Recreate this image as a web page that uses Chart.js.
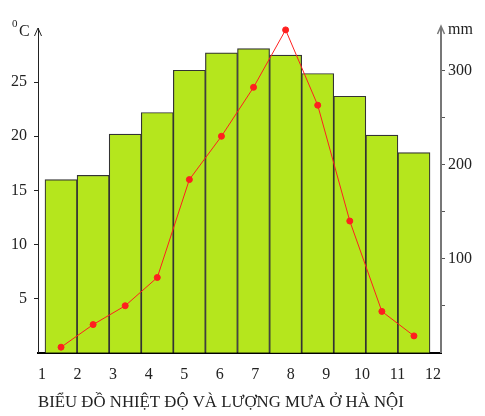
<!DOCTYPE html>
<html>
<head>
<meta charset="utf-8">
<title>Biểu đồ nhiệt độ và lượng mưa ở Hà Nội</title>
<script src="https://cdn.jsdelivr.net/npm/chart.js@4.4.1/dist/chart.umd.min.js"></script>
<style>
  html, body { margin: 0; padding: 0; background: #fff; }
  #wrap { width: 485px; height: 416px; }
</style>
</head>
<body>
<div id="wrap"><canvas id="climateChart" width="485" height="416"></canvas></div>
<script>
// --- Data ---
const months = [1, 2, 3, 4, 5, 6, 7, 8, 9, 10, 11, 12];
const temperature = [16.0, 16.4, 20.2, 22.2, 26.1, 27.7, 28.1, 27.5, 25.8, 23.7, 20.1, 18.5]; // °C, bars
const rainfall = [6, 30, 50, 80, 184, 230, 282, 343, 263, 140, 44, 18];                       // mm, line
const tempTicks = [5, 10, 15, 20, 25];
const rainTicks = [50, 100, 150, 200, 250, 300];
const rainLabelled = [100, 200, 300];
const chartTitle = 'BIỂU ĐỒ NHIỆT ĐỘ VÀ LƯỢNG MƯA Ở HÀ NỘI';

const SERIF = "'Liberation Serif', 'DejaVu Serif', serif";
const TEXT = '#222';

// --- Extra decorations: axis arrows and unit labels ---
const axisDecor = {
    id: 'axisDecor',
    afterDraw(chart) {
        const { ctx, chartArea } = chart;
        const left = chartArea.left, right = chartArea.right, top = chartArea.top;
        ctx.save();

        // arrow heads on both vertical axes
        ctx.lineWidth = 1;
        ctx.strokeStyle = '#222';
        ctx.beginPath();
        ctx.moveTo(left - 3.5, top + 8);
        ctx.lineTo(left, top);
        ctx.lineTo(left + 3.5, top + 8);
        ctx.stroke();

        ctx.strokeStyle = '#777';
        ctx.lineWidth = 1.5;
        ctx.beginPath();
        ctx.moveTo(right - 3.5, top + 6);
        ctx.lineTo(right, top - 2);
        ctx.lineTo(right + 3.5, top + 6);
        ctx.stroke();

        // unit labels
        ctx.fillStyle = TEXT;
        ctx.textBaseline = 'alphabetic';
        ctx.textAlign = 'left';
        ctx.font = `11px ${SERIF}`;
        ctx.fillText('0', 12, 27);
        ctx.font = `16px ${SERIF}`;
        ctx.fillText('C', 19, 36);
        ctx.fillText('mm', right + 7, 34);

        ctx.restore();
    }
};

const ctx = document.getElementById('climateChart');

new Chart(ctx, {
    type: 'bar',
    data: {
        datasets: [
            {
                type: 'line',
                label: 'Lượng mưa (mm)',
                data: months.map((m, i) => ({ x: m, y: rainfall[i] })),
                xAxisID: 'x',
                yAxisID: 'y1',
                borderColor: '#ff1f1f',
                borderWidth: 1,
                pointRadius: 3,
                pointBackgroundColor: '#ff1f1f',
                pointBorderColor: '#ff1f1f',
                tension: 0,
                clip: false,
                order: 0
            },
            {
                type: 'bar',
                label: 'Nhiệt độ (°C)',
                data: months.map((m, i) => ({ x: m, y: temperature[i] })),
                xAxisID: 'x',
                yAxisID: 'y',
                backgroundColor: '#b5e61d',
                borderColor: '#333',
                borderWidth: 1.2,
                categoryPercentage: 1,
                barPercentage: 1,
                order: 1
            }
        ]
    },
    options: {
        responsive: false,
        animation: false,
        layout: { padding: { top: 28, left: 0, right: 0, bottom: 0 } },
        plugins: {
            legend: { display: false },
            tooltip: { enabled: false },
            title: {
                display: true,
                text: chartTitle,
                position: 'bottom',
                fullSize: false,
                align: 'start',
                color: TEXT,
                font: { family: SERIF, size: 16.8, weight: 'normal' },
                padding: { top: 10, bottom: 3 }
            }
        },
        scales: {
            // data axis for bars and points (hidden)
            x: {
                type: 'linear',
                display: false,
                offset: false,
                min: 0.282,
                max: 12.843,
                afterBuildTicks: (scale) => { scale.ticks = months.map(v => ({ value: v })); }
            },
            // month labels as drawn on the reference
            xl: {
                type: 'linear',
                position: 'bottom',
                offset: false,
                min: 0.887,
                max: 12.225,
                afterBuildTicks: (scale) => { scale.ticks = months.map(v => ({ value: v })); },
                afterFit: (scale) => { scale.height = 30; },
                grid: { display: true, offset: false, drawOnChartArea: false, drawTicks: false },
                border: { color: '#000', width: 2 },
                ticks: {
                    color: TEXT,
                    padding: 12,
                    maxRotation: 0,
                    autoSkip: false,
                    font: { family: SERIF, size: 16 },
                    callback: (v) => String(v)
                }
            },
            y: {
                type: 'linear',
                position: 'left',
                min: 0,
                max: 30,
                afterBuildTicks: (scale) => { scale.ticks = tempTicks.map(v => ({ value: v })); },
                afterFit: (scale) => { scale.width = 38; },
                grid: { drawOnChartArea: false, drawTicks: true, tickLength: 4, color: '#222' },
                border: { color: '#222', width: 1 },
                ticks: {
                    color: TEXT,
                    padding: 7,
                    font: { family: SERIF, size: 16 }
                }
            },
            y1: {
                type: 'linear',
                position: 'right',
                min: 0,
                max: 345,
                afterBuildTicks: (scale) => { scale.ticks = rainTicks.map(v => ({ value: v })); },
                afterFit: (scale) => { scale.width = 44; },
                grid: { drawOnChartArea: false, drawTicks: true, tickLength: 4, color: '#555' },
                border: { color: '#777', width: 2 },
                ticks: {
                    color: TEXT,
                    padding: 3,
                    font: { family: SERIF, size: 16 },
                    callback: (v) => rainLabelled.includes(v) ? String(v) : ''
                }
            }
        }
    },
    plugins: [axisDecor]
});
</script>
</body>
</html>
